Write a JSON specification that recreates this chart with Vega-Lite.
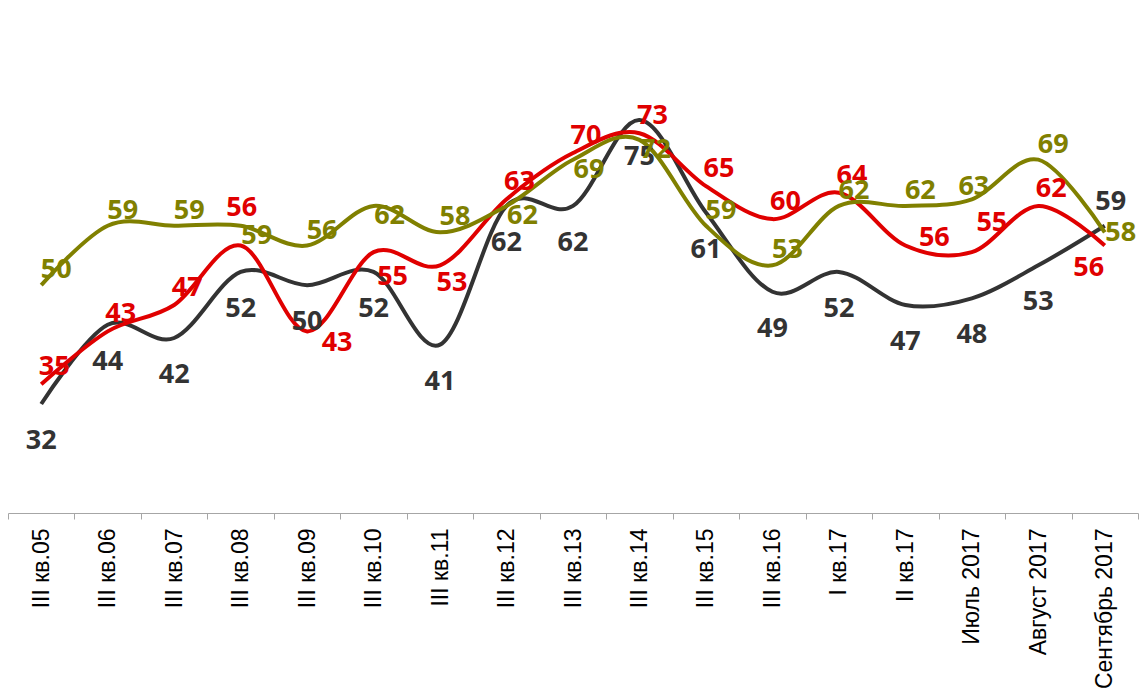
{
  "$schema": "https://vega.github.io/schema/vega-lite/v6.json",
  "width": 1130,
  "height": 459,
  "autosize": {"type": "none"},
  "padding": {"left": 8, "top": 54, "right": 5, "bottom": 179},
  "background": "white",
  "config": {"view": {"stroke": null}},
  "data": {"values": [
    {"cat": "III кв.05", "s": "Ряд1", "v": 32}, {"cat": "III кв.06", "s": "Ряд1", "v": 44}, {"cat": "III кв.07", "s": "Ряд1", "v": 42}, {"cat": "III кв.08", "s": "Ряд1", "v": 52}, {"cat": "III кв.09", "s": "Ряд1", "v": 50}, {"cat": "III кв.10", "s": "Ряд1", "v": 52}, {"cat": "III кв.11", "s": "Ряд1", "v": 41}, {"cat": "III кв.12", "s": "Ряд1", "v": 62}, {"cat": "III кв.13", "s": "Ряд1", "v": 62}, {"cat": "III кв.14", "s": "Ряд1", "v": 75}, {"cat": "III кв.15", "s": "Ряд1", "v": 61}, {"cat": "III кв.16", "s": "Ряд1", "v": 49}, {"cat": "I кв.17", "s": "Ряд1", "v": 52}, {"cat": "II кв.17", "s": "Ряд1", "v": 47}, {"cat": "Июль 2017", "s": "Ряд1", "v": 48}, {"cat": "Август 2017", "s": "Ряд1", "v": 53}, {"cat": "Сентябрь 2017", "s": "Ряд1", "v": 59},
    {"cat": "III кв.05", "s": "Ряд2", "v": 35}, {"cat": "III кв.06", "s": "Ряд2", "v": 43}, {"cat": "III кв.07", "s": "Ряд2", "v": 47}, {"cat": "III кв.08", "s": "Ряд2", "v": 56}, {"cat": "III кв.09", "s": "Ряд2", "v": 43}, {"cat": "III кв.10", "s": "Ряд2", "v": 55}, {"cat": "III кв.11", "s": "Ряд2", "v": 53}, {"cat": "III кв.12", "s": "Ряд2", "v": 63}, {"cat": "III кв.13", "s": "Ряд2", "v": 70}, {"cat": "III кв.14", "s": "Ряд2", "v": 73}, {"cat": "III кв.15", "s": "Ряд2", "v": 65}, {"cat": "III кв.16", "s": "Ряд2", "v": 60}, {"cat": "I кв.17", "s": "Ряд2", "v": 64}, {"cat": "II кв.17", "s": "Ряд2", "v": 56}, {"cat": "Июль 2017", "s": "Ряд2", "v": 55}, {"cat": "Август 2017", "s": "Ряд2", "v": 62}, {"cat": "Сентябрь 2017", "s": "Ряд2", "v": 56},
    {"cat": "III кв.05", "s": "Ряд3", "v": 50}, {"cat": "III кв.06", "s": "Ряд3", "v": 59}, {"cat": "III кв.07", "s": "Ряд3", "v": 59}, {"cat": "III кв.08", "s": "Ряд3", "v": 59}, {"cat": "III кв.09", "s": "Ряд3", "v": 56}, {"cat": "III кв.10", "s": "Ряд3", "v": 62}, {"cat": "III кв.11", "s": "Ряд3", "v": 58}, {"cat": "III кв.12", "s": "Ряд3", "v": 62}, {"cat": "III кв.13", "s": "Ряд3", "v": 69}, {"cat": "III кв.14", "s": "Ряд3", "v": 72}, {"cat": "III кв.15", "s": "Ряд3", "v": 59}, {"cat": "III кв.16", "s": "Ряд3", "v": 53}, {"cat": "I кв.17", "s": "Ряд3", "v": 62}, {"cat": "II кв.17", "s": "Ряд3", "v": 62}, {"cat": "Июль 2017", "s": "Ряд3", "v": 63}, {"cat": "Август 2017", "s": "Ряд3", "v": 69}, {"cat": "Сентябрь 2017", "s": "Ряд3", "v": 58}
  ]},
  "encoding": {
    "x": {"field": "cat", "type": "ordinal", "sort": null, "title": null,
      "scale": {"type": "band", "paddingInner": 0, "paddingOuter": 0},
      "axis": {"labelAngle": 270, "labelFont": "Liberation Sans", "labelFontSize": 23, "labelColor": "#000000",
        "domainColor": "#a6a6a6", "domainWidth": 1, "tickColor": "#a6a6a6", "tickSize": 6, "tickBand": "extent",
        "labelPadding": 9, "grid": false, "labelOverlap": false}},
    "y": {"field": "v", "type": "quantitative", "axis": null,
      "scale": {"domain": [15.5, 85], "zero": false, "nice": false}},
    "color": {"field": "s", "type": "nominal", "legend": null,
      "scale": {"domain": ["Ряд1", "Ряд2", "Ряд3"], "range": ["#333333", "#e00000", "#808000"]}}
  },
  "layer": [
    {"mark": {"type": "line", "interpolate": "cardinal", "strokeWidth": 4}, "encoding": {"detail": {"field": "s"}}},
    {"transform": [{"filter": "datum.s=='Ряд1' && datum.cat!='Сентябрь 2017'"}],
     "mark": {"type": "text", "font": "Open Sans", "fontWeight": "bold", "fontSize": 27, "dx": 0, "dy": 37}, "encoding": {"text": {"field": "v"}}},
    {"transform": [{"filter": "datum.s=='Ряд1' && datum.cat=='Сентябрь 2017'"}],
     "mark": {"type": "text", "font": "Open Sans", "fontWeight": "bold", "fontSize": 27, "dx": 6, "dy": -24}, "encoding": {"text": {"field": "v"}}},
    {"transform": [{"filter": "datum.s=='Ряд2' && indexof(['III кв.08','III кв.09','III кв.10','III кв.11','II кв.17','Июль 2017','Сентябрь 2017'], datum.cat) < 0"}],
     "mark": {"type": "text", "font": "Open Sans", "fontWeight": "bold", "fontSize": 27, "dx": 13, "dy": -17}, "encoding": {"text": {"field": "v"}}},
    {"transform": [{"filter": "datum.s=='Ряд2' && datum.cat=='III кв.08'"}],
     "mark": {"type": "text", "font": "Open Sans", "fontWeight": "bold", "fontSize": 27, "dx": 1, "dy": -38}, "encoding": {"text": {"field": "v"}}},
    {"transform": [{"filter": "datum.s=='Ряд2' && datum.cat=='III кв.09'"}],
     "mark": {"type": "text", "font": "Open Sans", "fontWeight": "bold", "fontSize": 27, "dx": 30, "dy": 12}, "encoding": {"text": {"field": "v"}}},
    {"transform": [{"filter": "datum.s=='Ряд2' && datum.cat=='III кв.10'"}],
     "mark": {"type": "text", "font": "Open Sans", "fontWeight": "bold", "fontSize": 27, "dx": 19, "dy": 25}, "encoding": {"text": {"field": "v"}}},
    {"transform": [{"filter": "datum.s=='Ряд2' && datum.cat=='III кв.11'"}],
     "mark": {"type": "text", "font": "Open Sans", "fontWeight": "bold", "fontSize": 27, "dx": 12, "dy": 18}, "encoding": {"text": {"field": "v"}}},
    {"transform": [{"filter": "datum.s=='Ряд2' && datum.cat=='II кв.17'"}],
     "mark": {"type": "text", "font": "Open Sans", "fontWeight": "bold", "fontSize": 27, "dx": 29, "dy": -8}, "encoding": {"text": {"field": "v"}}},
    {"transform": [{"filter": "datum.s=='Ряд2' && datum.cat=='Июль 2017'"}],
     "mark": {"type": "text", "font": "Open Sans", "fontWeight": "bold", "fontSize": 27, "dx": 20, "dy": -29}, "encoding": {"text": {"field": "v"}}},
    {"transform": [{"filter": "datum.s=='Ряд2' && datum.cat=='Сентябрь 2017'"}],
     "mark": {"type": "text", "font": "Open Sans", "fontWeight": "bold", "fontSize": 27, "dx": -16, "dy": 22}, "encoding": {"text": {"field": "v"}}},
    {"transform": [{"filter": "datum.s=='Ряд3' && indexof(['III кв.08','III кв.10','III кв.12','III кв.13','III кв.14','Июль 2017','Сентябрь 2017'], datum.cat) < 0"}],
     "mark": {"type": "text", "font": "Open Sans", "fontWeight": "bold", "fontSize": 27, "dx": 15, "dy": -15}, "encoding": {"text": {"field": "v"}}},
    {"transform": [{"filter": "datum.s=='Ряд3' && indexof(['III кв.08','III кв.10','III кв.12','III кв.13','III кв.14'], datum.cat) >= 0"}],
     "mark": {"type": "text", "font": "Open Sans", "fontWeight": "bold", "fontSize": 27, "dx": 16, "dy": 10}, "encoding": {"text": {"field": "v"}}},
    {"transform": [{"filter": "datum.s=='Ряд3' && datum.cat=='Июль 2017'"}],
     "mark": {"type": "text", "font": "Open Sans", "fontWeight": "bold", "fontSize": 27, "dx": 2, "dy": -12}, "encoding": {"text": {"field": "v"}}},
    {"transform": [{"filter": "datum.s=='Ряд3' && datum.cat=='Сентябрь 2017'"}],
     "mark": {"type": "text", "font": "Open Sans", "fontWeight": "bold", "fontSize": 27, "dx": 16, "dy": 1}, "encoding": {"text": {"field": "v"}}}
  ]
}
